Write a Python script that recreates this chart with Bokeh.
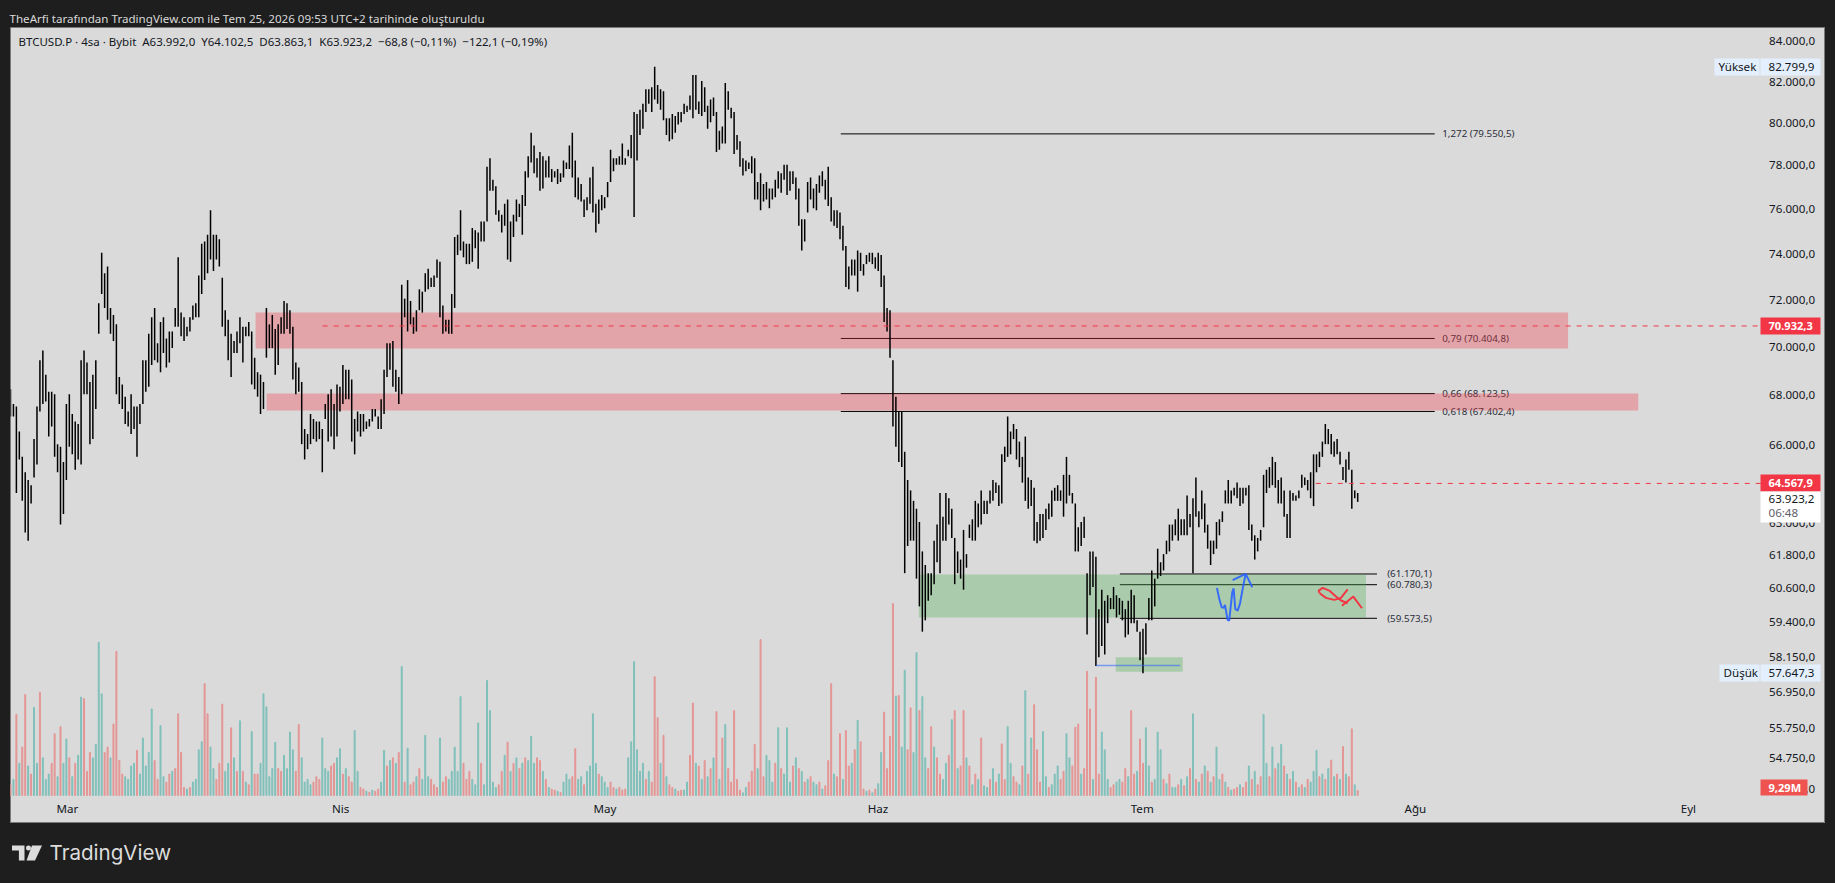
import numpy as np
from bokeh.embed import file_html
from bokeh.resources import INLINE
from bokeh.plotting import figure
from bokeh.layouts import column
from bokeh.models import Range1d, LinearScale, Label, BoxAnnotation, ColumnDataSource
from bokeh.core.properties import value

# ---- 8-hour price readings, thousands of USD ----
highs = [
68.3,67.7,67.6,66.6,65.6,65.0,64.7,64.5,66.3,67.6,69.5,69.9,68.9,68.2,68.2,68.1,66.1,66.0,65.4,67.7,68.1,67.3,67.0,66.9,69.5,69.9,69.4,68.6,68.9,69.5,
71.9,74.1,73.2,73.5,71.7,71.4,71.0,68.8,68.5,68.0,67.4,68.1,67.6,67.6,67.7,69.5,69.5,70.6,71.3,71.7,70.2,71.1,71.3,70.4,70.7,70.7,71.7,73.9,71.5,71.3,
70.9,71.3,71.8,71.9,73.1,74.5,74.6,74.9,76.0,74.9,74.9,74.7,73.0,71.6,71.2,70.6,70.3,70.7,71.3,70.9,70.9,71.1,70.7,69.6,69.0,68.9,68.6,71.7,71.0,
71.4,70.8,71.0,71.3,72.0,71.9,71.6,70.9,69.4,69.2,68.6,66.7,66.5,67.3,67.1,67.0,67.0,66.7,67.7,68.1,68.3,67.7,68.5,68.4,69.3,69.1,69.1,68.7,67.1,67.4,
67.3,67.3,67.0,67.1,67.5,67.5,67.2,67.9,69.1,70.2,70.2,70.3,69.1,68.8,72.7,72.1,72.9,72.0,71.3,71.6,72.5,72.4,73.2,73.4,73.0,73.1,73.8,73.7,71.8,71.2,
71.2,72.3,74.8,74.9,76.0,74.6,74.5,74.5,75.2,75.1,75.0,75.5,75.5,78.0,78.4,77.4,77.1,76.0,75.8,76.3,76.5,75.5,75.8,76.5,76.3,
76.7,77.8,78.5,79.6,79.0,78.4,78.7,78.5,78.3,78.5,77.9,77.8,77.9,77.7,78.3,78.2,79.0,79.6,78.3,77.5,77.2,76.5,76.6,77.5,78.0,76.3,76.5,76.7,76.6,77.3,
78.8,78.4,78.4,78.5,79.1,78.4,78.8,79.5,80.6,80.5,80.7,81.0,81.7,81.7,81.8,82.8,81.9,81.7,81.6,80.3,80.3,80.5,80.4,80.6,80.6,81.0,80.9,81.4,82.4,82.4,
81.1,82.1,81.8,80.9,81.2,81.3,80.6,79.7,79.9,82.0,81.6,80.8,80.6,79.5,79.2,78.4,78.3,78.2,78.5,78.4,77.3,77.7,77.2,77.3,77.0,
77.0,77.4,77.8,77.7,78.1,78.1,77.8,77.8,77.5,77.0,75.6,75.6,77.3,77.5,77.0,77.2,77.6,77.8,77.4,78.0,76.6,76.0,76.0,75.9,75.3,74.4,73.5,73.8,73.8,74.2,
74.1,73.6,74.0,74.1,74.1,73.9,74.1,74.0,73.1,71.7,71.6,
69.5,68.0,67.4,67.4,65.8,64.7,64.3,63.9,63.6,63.1,62.0,61.5,61.2,61.2,62.4,63.0,64.2,63.3,64.2,64.0,63.6,62.5,62.0,61.7,62.8,61.9,63.0,63.2,63.9,63.8,
64.3,63.9,63.9,64.3,64.7,64.6,64.5,65.7,66.0,67.2,66.6,66.9,66.7,66.2,65.6,66.4,64.8,64.7,64.4,63.1,63.4,63.4,63.6,63.8,64.3,64.4,64.5,64.3,64.9,65.6,
64.9,64.2,63.8,62.9,63.1,63.3,61.2,62.0,62.0,61.8,
59.9,60.6,60.2,60.4,60.3,60.7,60.4,60.3,60.2,59.9,60.2,60.6,60.4,59.5,59.1,59.2,59.4,60.3,61.3,61.0,62.1,61.6,61.9,62.4,63.0,63.0,63.2,63.6,63.2,63.2,
64.1,63.4,64.0,64.8,63.5,64.3,63.8,63.0,62.4,62.4,63.1,63.2,63.5,64.3,64.7,64.3,64.4,64.6,64.4,64.4,64.4,64.5,63.0,62.6,62.5,62.8,64.9,65.1,65.2,65.6,
65.4,64.7,64.8,64.3,63.4,64.3,64.2,64.1,64.3,64.9,64.8,64.7,65.0,65.7,65.7,65.8,66.2,66.9,66.7,66.5,66.2,66.3,65.8,65.2,65.5,65.8,65.1,64.3,64.2]

lows = [
67.2,67.2,64.2,65.5,63.9,62.7,62.4,63.8,64.8,65.3,67.4,67.7,67.8,66.4,66.8,65.6,65.0,63.0,63.4,64.7,66.0,65.7,65.1,65.5,65.3,68.1,68.1,66.1,66.3,67.5,
70.6,72.3,71.7,71.2,70.6,70.3,68.1,67.7,67.5,66.9,66.8,66.5,66.7,65.6,66.9,67.7,68.2,68.4,69.3,69.5,69.4,69.0,69.8,69.2,69.4,70.0,70.9,70.9,70.5,70.3,
70.5,70.7,71.2,71.3,71.3,72.3,72.9,73.2,73.8,73.3,73.8,73.5,70.9,70.5,69.5,68.8,69.8,69.8,70.2,69.4,70.5,70.5,68.5,68.3,68.0,67.3,67.5,69.6,70.0,
70.0,68.9,69.3,70.6,70.6,70.8,70.6,68.7,68.1,68.2,66.1,65.5,65.9,66.1,66.3,66.2,66.3,65.0,67.1,66.2,66.4,65.9,66.4,67.4,67.7,67.9,67.9,66.2,65.7,66.6,
66.4,66.6,66.7,66.8,67.0,67.2,66.7,66.7,67.3,68.8,69.1,68.4,68.2,67.7,68.1,71.3,70.7,71.0,70.6,70.7,71.6,71.5,72.4,72.5,72.6,72.6,73.0,71.3,70.6,70.7,
70.6,70.6,71.7,74.0,74.2,73.9,73.6,73.6,73.7,74.3,73.4,74.6,74.6,75.5,76.9,76.9,75.8,75.5,75.0,75.3,73.8,73.7,74.8,75.5,75.7,
74.9,76.2,77.5,78.2,77.7,77.5,76.9,77.0,77.5,77.5,77.3,77.5,77.2,77.3,77.5,77.9,77.9,77.5,76.6,76.5,76.4,75.7,76.0,76.3,75.9,75.0,75.4,76.0,76.1,76.6,
77.3,77.8,78.1,78.1,78.1,78.1,78.5,78.4,75.7,78.3,79.5,79.8,80.6,81.0,80.6,81.2,81.0,80.7,80.2,79.5,79.2,79.3,79.6,80.0,80.1,80.5,80.6,80.7,80.3,80.7,
80.5,80.4,80.6,79.8,80.1,80.4,78.7,78.8,79.1,79.1,80.7,80.3,78.6,78.8,78.0,77.6,77.8,77.9,77.7,76.5,76.5,76.0,76.4,76.5,76.1,
76.5,76.6,77.0,76.8,77.4,76.7,76.9,77.2,76.5,75.3,74.2,74.6,75.9,76.5,76.1,76.0,76.8,77.1,76.5,76.2,75.5,75.3,75.2,74.7,74.2,72.6,72.5,73.1,73.1,72.4,
73.3,73.1,73.6,73.7,73.6,73.4,73.3,72.6,71.1,70.7,69.6,
66.8,66.0,65.4,65.2,61.2,62.2,62.4,62.4,61.0,60.0,59.1,59.5,60.2,60.4,60.8,61.6,61.2,62.4,62.4,63.0,62.5,60.8,61.2,61.0,60.6,61.4,62.5,62.4,62.4,62.9,
63.0,63.4,63.4,63.8,63.9,64.2,63.7,63.8,65.4,65.6,65.7,66.3,65.5,65.2,64.6,63.9,63.6,63.7,62.4,62.3,62.4,62.5,62.8,63.2,63.3,63.9,63.9,63.9,63.3,63.8,
64.1,63.8,62.0,62.0,62.2,62.5,59.0,60.4,60.7,57.9,
58.2,58.6,58.3,59.4,59.9,59.9,59.6,59.7,59.5,58.9,59.0,59.4,59.4,59.1,58.1,57.65,58.3,59.5,59.5,60.0,61.0,61.1,61.3,61.9,62.0,62.4,62.6,62.4,62.6,62.6,
62.6,62.9,61.2,63.3,62.9,63.2,62.7,62.1,61.5,61.9,62.1,62.6,63.1,63.8,63.8,63.8,64.1,64.0,63.7,63.8,64.1,62.8,62.4,61.7,62.0,62.4,62.9,64.2,64.4,64.5,
64.4,63.8,63.8,63.3,62.5,62.5,63.9,63.9,64.0,64.4,64.5,64.3,64.0,63.7,65.0,65.2,65.6,66.1,66.1,65.7,65.6,65.7,65.3,64.7,64.6,65.1,63.6,64.0,63.86]

# ---- volume, millions of USD ----
vol_m = [
20,30,151,60,90,188,55,40,164,60,192,70,30,40,60,115,35,128,60,105,
70,35,60,75,183,180,45,80,70,95,285,189,80,90,70,133,268,65,40,35,
30,55,60,84,40,107,55,80,161,65,30,130,35,25,40,45,50,152,80,15,
12,15,25,30,85,100,208,152,90,50,30,60,170,45,60,126,70,45,139,45,
25,20,119,40,40,60,189,165,35,50,99,50,45,75,50,118,85,45,132,70,
25,30,20,25,35,30,107,50,45,55,60,70,87,40,50,35,25,121,45,15,
12,8,6,10,8,12,25,84,55,65,70,60,80,240,25,88,20,25,35,50,
30,112,35,30,20,15,107,25,35,30,45,90,45,184,60,30,45,30,20,135,
60,20,214,158,25,15,20,45,75,99,45,60,70,50,60,70,65,110,60,70,
65,45,30,15,12,10,8,6,25,40,30,35,87,30,35,20,45,55,152,60,
40,35,25,15,25,15,12,15,10,12,70,100,249,85,45,60,30,45,25,221,
145,60,112,35,20,15,12,8,10,10,25,75,172,60,55,30,65,35,50,70,
156,30,107,132,50,25,158,30,10,5,15,25,45,95,50,290,35,75,65,25,
60,126,50,40,126,25,55,70,50,45,25,30,35,25,20,25,12,18,65,208,
40,35,115,30,121,55,60,85,140,100,12,8,10,5,12,22,80,155,50,110,
357,185,186,90,233,85,163,80,266,158,184,70,50,128,90,70,40,30,60,75,
141,158,50,55,158,70,55,20,40,30,107,18,15,30,50,25,40,96,30,128,
60,35,25,20,55,195,40,107,169,85,25,119,35,15,20,40,55,30,45,115,
70,55,127,133,40,50,231,161,30,220,40,118,85,30,15,20,25,30,25,50,
35,158,40,45,105,60,126,55,25,30,118,85,30,22,40,15,15,20,30,18,
35,50,152,30,25,40,55,45,25,35,90,30,40,25,15,10,12,15,20,15,
25,55,30,45,20,35,151,60,35,90,50,60,95,55,40,30,45,25,15,20,
15,30,25,45,84,35,40,30,50,66,35,40,30,91,40,35,124,20,9.29]
vol_side = (
"rgrgrrgrggrgggrrgrgg" "rgrggrrrggggrrgrrrrg" "gggrgggggrrggrrgrrrr" "grggggrrggrrrggrgrgr"
"grgrrggggggrrggggrrg" "gggrrrgggrrggrgrrggr" "rgrgrrggrgrgrgrgrrgr" "gggrrrgrrgggggrrrggg"
"rgggggrrgrgrgrgrgggr" "rgrgrrgrgggrrggrgggg" "rgggrrgrrrggggggrgrr" "rgrgrrgrrggrrgrgrgrg"
"rgrgrrrrrggrrrgrrggg" "rgrgggrgrgrgrggrgrrr" "grrgrrgrgrrgrgrggrrr" "rgrggrrggrggrrgrrggr"
"grgrrgrgrgrggrgrgrrg" "grrgrgrgrrrggrgggrrg" "grrrgrrrgrrgggrrggrr" "grrgrrggrgggrgrggrgr"
"grgrgrgrgrggrgrgrrgr" "rgrgrrggrgrggrgrgrgr" "grgggrgrgrgrgrgrrgr")

# x axis: days counted from 1 February
month_days = [28, 59, 89, 120, 150, 181, 212]
month_labels = ["Mar", "Nis", "May", "Haz", "Tem", "Ağu", "Eyl"]
first_bar_day = 21.53
bar_step_days = 0.3339

price_ticks = [84000, 82000, 80000, 78000, 76000, 74000, 72000, 70000, 68000, 66000, 63000,
               61800, 60600, 59400, 58150, 56950, 55750, 54750, 53750]
price_labels = ["84.000,0", "82.000,0", "80.000,0", "78.000,0", "76.000,0", "74.000,0", "72.000,0",
                "70.000,0", "68.000,0", "66.000,0", "63.000,0", "61.800,0", "60.600,0", "59.400,0",
                "58.150,0", "56.950,0", "55.750,0", "54.750,0", "53.750,0"]

fib_levels = [79550.5, 70404.8, 68123.5, 67402.4]
fib_labels = ["1,272 (79.550,5)", "0,79 (70.404,8)", "0,66 (68.123,5)", "0,618 (67.402,4)"]
fib_start, fib_end, fib_label_day = 115.78, 183.2, 184.05
fib2_levels = [61170.1, 60780.3, 59573.5]
fib2_labels = ["(61.170,1)", "(60.780,3)", "(59.573,5)"]
fib2_start, fib2_end, fib2_label_day = 147.46, 176.65, 177.8

zone_left = [49.35, 50.6]
zone_right = [198.34, 206.3]
zone_top = [71500, 68130]
zone_bottom = [69980, 67440]
green_left = [124.64, 147.0]
green_right = [175.4, 154.6]
green_top = [61150, 58200]
green_bottom = [59600, 57700]

blue_day = [158.48, 158.74, 159.01, 159.24, 159.39, 159.69, 159.87, 160.22, 160.37, 160.56, 160.83, 161.09, 161.40, 161.74, 162.49]
blue_price = [60666, 60269, 59968, 59946, 60054, 59518, 59493, 60507, 60652, 59910, 59849, 60090, 60630, 61176, 60688]
arrow_day = [160.26, 161.74]
arrow_price = [60943, 61176]
red1_day = [170.14, 170.03, 170.48, 171.23, 171.99, 172.56, 173.32]
red1_price = [60471, 60568, 60666, 60568, 60352, 60208, 60110]
red2_day = [170.14, 170.85, 171.80, 172.56, 173.32]
red2_price = [60471, 60305, 60233, 60305, 60615]
red3_day = [172.67, 173.96, 174.94]
red3_price = [60018, 60352, 59932]

assert len(highs) == len(lows) == len(vol_m), (len(highs), len(lows), len(vol_m), len(vol_side))
assert len(vol_m) == len(vol_side), (len(vol_m), len(vol_side))

BG = "#dadada"
DARK = "#1e1e1e"
INK = "#131722"
RED = "#f23645"
FONT = "Noto Sans"
PRICE_LABEL_DAY = 221.16
MONTH_LABEL_VOL = -25.1

n = len(highs)
bar_x = first_bar_day + bar_step_days * np.arange(n)

p = figure(width=1815, height=796, output_backend="svg", toolbar_location=None,
           x_range=Range1d(21.53, 227.56), y_range=Range1d(52705, 84766),
           y_axis_type="log",
           background_fill_color=BG, border_fill_color=BG,
           min_border=0)
p.margin = (0, 2, 0, 2)
p.outline_line_color = "#7a7a7a"
p.outline_line_width = 1
p.axis.visible = False
p.grid.visible = False
p.extra_y_ranges = {"vol": Range1d(-52.08, 1428.5)}
p.extra_y_scales = {"vol": LinearScale()}

# volume
vol_colors = ["#80c0ba" if s == "g" else "#e49695" for s in vol_side]
p.vbar(x=bar_x, top=vol_m, bottom=0, width=0.11, color=vol_colors, y_range_name="vol")

# fib lines and their labels, under the zones
for lv in fib_levels:
    p.segment(fib_start, lv, fib_end, lv, line_color="black", line_width=1)
for lv in fib2_levels:
    p.segment(fib2_start, lv, fib2_end, lv, line_color="black", line_width=1)
p.text(x=[fib_label_day] * 4, y=fib_levels, text=fib_labels, text_font=value(FONT),
       text_font_size="9.8px", text_color="#2a2e39", text_baseline="middle")
p.text(x=[fib2_label_day] * 3, y=fib2_levels, text=fib2_labels, text_font=value(FONT),
       text_font_size="9.8px", text_color="#2a2e39", text_baseline="middle")

# zones
p.quad(left=zone_left, right=zone_right, top=zone_top, bottom=zone_bottom,
       fill_color=RED, fill_alpha=0.33, line_color=None)
p.quad(left=green_left, right=green_right, top=green_top, bottom=green_bottom,
       fill_color="#4caf50", fill_alpha=0.33, line_color=None)

# candles
price_src = ColumnDataSource(dict(x=bar_x, hi=np.array(highs) * 1000, lo=np.array(lows) * 1000))
p.segment(x0="x", y0="hi", x1="x", y1="lo", source=price_src, line_color="black", line_width=1.5)

# price lines
p.segment(56.96, 70932.3, 220.25, 70932.3, line_color=RED, line_width=1, line_dash="5 6")
p.segment(169.7, 64567.9, 220.25, 64567.9, line_color=RED, line_width=1, line_dash="5 6")
p.segment(144.74, 57920, 154.3, 57920, line_color="#2962ff", line_alpha=0.55, line_width=1.6)

# hand drawings
p.line(blue_day, blue_price, line_color="#2962ff", line_width=2, line_alpha=0.9)
p.line(arrow_day, arrow_price, line_color="#2962ff", line_width=2, line_alpha=0.9)
for dx, dy in ((red1_day, red1_price), (red2_day, red2_price), (red3_day, red3_price)):
    p.line(dx, dy, line_color=RED, line_width=2)

# price scale and time scale texts, placed through the chart's scales
p.text(x=[PRICE_LABEL_DAY] * len(price_ticks), y=price_ticks, text=price_labels, text_font=value(FONT),
       text_font_size="11.6px", text_color=INK, text_baseline="middle", y_offset=-1.4)
p.text(x=month_days, y=[MONTH_LABEL_VOL] * len(month_days), text=month_labels, text_font=value(FONT),
       text_font_size="11.6px", text_color=INK, text_baseline="middle", text_align="center", y_range_name="vol")

# price-scale boxes, chrome in screen units of the panel
def box(left, right, bottom, top, color):
    p.add_layout(BoxAnnotation(left=left, right=right, bottom=bottom, top=top,
                               left_units="screen", right_units="screen",
                               bottom_units="screen", top_units="screen",
                               fill_color=color, fill_alpha=1, line_color=None))

def label(x, y, text, color=INK, size="11.6px", style="normal"):
    p.add_layout(Label(x=x, y=y, x_units="screen", y_units="screen", text=text,
                       text_font=FONT, text_font_size=size, text_color=color, text_font_style=style,
                       text_baseline="middle", text_align="left"))

box(1704, 1749, 748, 765, "#e3effd"); box(1750, 1810, 748, 765, "#e3effd")
box(1750, 1810, 489, 506, RED)
box(1750, 1810, 332, 349, RED)
box(1750, 1810, 301, 332, "#ffffff")
box(1709, 1749, 142, 159, "#e3effd"); box(1750, 1810, 142, 159, "#e3effd")
box(1750, 1797, 28, 44, "#ef5350")
label(1708, 757, "Yüksek"); label(1758, 757, "82.799,9")
label(1758, 498, "70.932,3", "#ffffff", size="11.1px", style="bold")
label(1758, 341, "64.567,9", "#ffffff", size="11.1px", style="bold")
label(1758, 324.6, "63.923,2"); label(1758, 310.6, "06:48", "#5d606b")
label(1713, 151, "Düşük"); label(1758, 151, "57.647,3")
label(1758, 36.5, "9,29M", "#ffffff", size="11.1px", style="bold")
nb = "\u00a0\u00a0"
label(8, 782, nb.join(["BTCUSD.P · 4sa · Bybit", "A63.992,0", "Y64.102,5", "D63.863,1", "K63.923,2",
                       "−68,8 (−0,11%)", "−122,1 (−0,19%)"]), size="11.5px")

# header
h = figure(width=1819, height=19, output_backend="svg", toolbar_location=None,
           x_range=Range1d(8, 1827), y_range=Range1d(27, 8), background_fill_color=DARK,
           border_fill_color=DARK, min_border=0, outline_line_color=None)
h.axis.visible = False
h.grid.visible = False
h.text(x=[9], y=[18], text=["TheArfi tarafından TradingView.com ile Tem 25, 2026 09:53 UTC+2 tarihinde oluşturuldu"],
       text_font=value(FONT), text_font_size="11.6px", text_color="#d9d9d9", text_baseline="middle")

# footer with logo
f = figure(width=1819, height=52, output_backend="svg", toolbar_location=None,
           x_range=Range1d(8, 1827), y_range=Range1d(875, 823), background_fill_color=DARK,
           border_fill_color=DARK, min_border=0, outline_line_color=None)
f.axis.visible = False
f.grid.visible = False
f.patch([11.5, 24, 24, 18.4, 18.4, 11.5], [845, 845, 860, 860, 850, 850], color="#dcdcdc", line_color=None)
f.patch([31.5, 41.5, 34.5, 26], [845, 845, 860, 860], color="#dcdcdc", line_color=None)
f.scatter([28], [847.6], size=5, color="#dcdcdc", line_color=None)
f.text(x=[49], y=[851.8], text=["TradingView"], text_font=value("Inter"), text_font_size="20.6px",
       text_color="#dcdcdc", text_baseline="middle")

page = column(h, p, f, spacing=0)
html = file_html(page, INLINE, title="BTCUSD.P")
html = html.replace("</head>", "<style>html,body{background:#1e1e1e;height:auto!important;overflow:hidden}body{margin:8px!important}</style></head>", 1)
open("out.html", "w").write(html)
